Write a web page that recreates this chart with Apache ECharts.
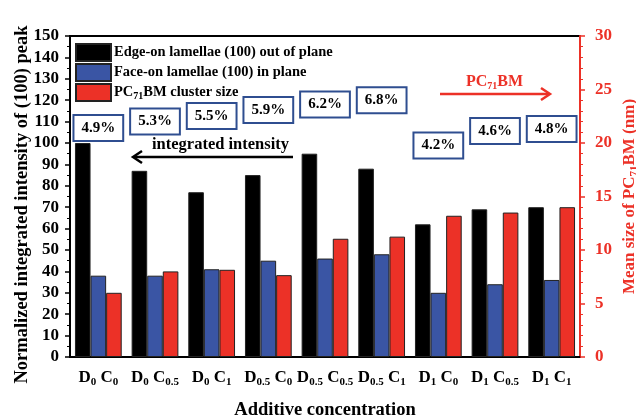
<!DOCTYPE html>
<html><head><meta charset="utf-8">
<script src="https://cdn.jsdelivr.net/npm/echarts@6/dist/echarts.min.js"></script>
<style>html,body{margin:0;padding:0;background:#fff}#c{width:636px;height:417px}</style>
</head><body><div id="c"></div>
<script>
const categories = ['D{s|0} C{s|0}','D{s|0} C{s|0.5}','D{s|0} C{s|1}','D{s|0.5} C{s|0}','D{s|0.5} C{s|0.5}','D{s|0.5} C{s|1}','D{s|1} C{s|0}','D{s|1} C{s|0.5}','D{s|1} C{s|1}'];
const edgeOn = [100, 87, 77, 85, 95, 88, 62, 69, 70];
const faceOn = [38, 38, 41, 45, 46, 48, 30, 34, 36];
const clusterSize = [6.0, 8.0, 8.15, 7.65, 11.05, 11.25, 13.2, 13.5, 14.0];
const percentLabels = ['4.9%','5.3%','5.5%','5.9%','6.2%','6.8%','4.2%','4.6%','4.8%'];
const percentY = [107, 110, 112.6, 115.4, 118, 120, 98.8, 105.6, 106.5];
const leftTicks = {min:0, max:150, interval:10};
const rightTicks = {min:0, max:30, interval:5};

const FONT = 'Liberation Serif';
const RED = '#ec3127', BLUE = '#3a55a4';
const chart = echarts.init(document.getElementById('c'));
const sub = {fontSize:11, fontWeight:'bold', fontFamily:FONT, padding:[9,0,0,0]};
const option = {
  animation:false,
  textStyle:{fontFamily:FONT},
  grid:{left:70,right:56,top:36,bottom:60,containLabel:false,outerBoundsMode:'none',
    show:true,borderColor:'#000',borderWidth:2,backgroundColor:'transparent'},
  legend:{
    orient:'vertical', left:75, top:43, padding:0, itemWidth:35, itemHeight:17, itemGap:1, icon:'rect',
    data:['edge','face','pc'],
    formatter: n => ({edge:'Edge-on lamellae (100) out of plane', face:'Face-on lamellae (100) in plane', pc:'{m|PC}{s|71}{m|BM cluster size}'})[n],
    textStyle:{fontFamily:FONT,fontWeight:'bold',fontSize:14.5,color:'#000', padding:[0,0,0,-2], lineHeight:18,
      rich:{m:{fontSize:14.5,fontWeight:'bold',fontFamily:FONT,lineHeight:18},
            s:{fontSize:10,fontWeight:'bold',fontFamily:FONT,lineHeight:12,verticalAlign:'bottom'}}}
  },
  xAxis:[{
    type:'category', data:categories,
    axisLine:{lineStyle:{color:'#000',width:2}},
    axisTick:{alignWithLabel:true,length:5,lineStyle:{color:'#000',width:1.5}},
    axisLabel:{fontFamily:FONT,fontWeight:'bold',fontSize:17,color:'#000',margin:11, interval:0,
      rich:{s:sub}},
    name:'Additive concentration', nameLocation:'middle', nameGap:44, nameMoveOverlap:false,
    nameTextStyle:{fontFamily:FONT,fontWeight:'bold',fontSize:18.5,color:'#000'}
  },{
    type:'category', data:categories, position:'bottom',
    axisLine:{show:false}, axisLabel:{show:false},
    axisTick:{length:3,lineStyle:{color:'#000',width:1}}
  }],
  yAxis:[{
    type:'value', min:leftTicks.min, max:leftTicks.max, interval:leftTicks.interval,
    axisLine:{show:true,lineStyle:{color:'#000',width:2}},
    axisTick:{show:true,length:5,lineStyle:{color:'#000',width:1.5}},
    minorTick:{show:true,splitNumber:2,length:3,lineStyle:{color:'#000',width:1}},
    splitLine:{show:false},
    axisLabel:{fontFamily:FONT,fontWeight:'bold',fontSize:17,color:'#000',margin:11},
    name:'Normalized integrated intensity of (100) peak', nameLocation:'middle', nameGap:38, nameMoveOverlap:false,
    nameTextStyle:{fontFamily:FONT,fontWeight:'bold',fontSize:18.5,color:'#000',padding:[0,0,0,-16]}
  },{
    type:'value', position:'right', min:rightTicks.min, max:rightTicks.max, interval:rightTicks.interval,
    axisLine:{show:true,lineStyle:{color:RED,width:2}},
    axisTick:{show:true,length:5,lineStyle:{color:RED,width:1.5}},
    minorTick:{show:true,splitNumber:5,length:3,lineStyle:{color:RED,width:1}},
    splitLine:{show:false},
    axisLabel:{fontFamily:FONT,fontWeight:'bold',fontSize:17,color:RED,margin:15},
    name:'Mean size of PC{s|71}BM (nm)', nameLocation:'middle', nameGap:40, nameMoveOverlap:false,
    nameTextStyle:{fontFamily:FONT,fontWeight:'bold',fontSize:17,color:RED,
      rich:{s:{fontSize:11,fontWeight:'bold',fontFamily:FONT,color:RED,padding:[9,0,0,0]}}}
  }],
  series:[
    {name:'edge',type:'bar',data:edgeOn,barWidth:'27.5%',barGap:'0%',itemStyle:{color:'#000',borderColor:'#222',borderWidth:1}},
    {name:'face',type:'bar',data:faceOn,barWidth:'27.5%',barGap:'0%',itemStyle:{color:BLUE,borderColor:'#222',borderWidth:1}},
    {name:'pc',type:'bar',yAxisIndex:1,data:clusterSize,barWidth:'27.5%',barGap:'0%',itemStyle:{color:RED,borderColor:'#222',borderWidth:1}},
    {name:'pct',type:'scatter',symbol:'rect',symbolSize:1,itemStyle:{color:'rgba(255,255,255,0)'},z:10,
      emphasis:{disabled:true},
      data:percentY.map((v,i)=>[i,v]),
      label:{show:true,position:'inside',formatter:p=>percentLabels[p.dataIndex],opacity:1,
        fontFamily:FONT,fontWeight:'bold',fontSize:15,color:'#000',backgroundColor:'#fff',
        textBorderWidth:0,textBorderColor:'transparent',
        borderColor:'#2f4e90',borderWidth:2,padding:[5,7,4,7]}}
  ],
  graphic:[
    {type:'text',left:152,top:136,style:{text:'integrated intensity',font:'bold 16.5px "Liberation Serif"',fill:'#000'}},
    {type:'line',shape:{x1:134,y1:157,x2:293,y2:157},style:{stroke:'#000',lineWidth:2.5}},
    {type:'polyline',shape:{points:[[142,151],[133,157],[142,163]]},style:{stroke:'#000',lineWidth:2.5,fill:null}},
    {type:'text',left:466,top:74,style:{text:'{m|PC}{s|71}{m|BM}',rich:{m:{font:'bold 16px "Liberation Serif"',fill:RED},s:{font:'bold 10px "Liberation Serif"',fill:RED,padding:[8,0,0,0]}}}},
    {type:'line',shape:{x1:440,y1:94,x2:549,y2:94},style:{stroke:RED,lineWidth:2.5}},
    {type:'polyline',shape:{points:[[541,88],[550,94],[541,100]]},style:{stroke:RED,lineWidth:2.5,fill:null}}
  ]
};
chart.setOption(option);
</script></body></html>
